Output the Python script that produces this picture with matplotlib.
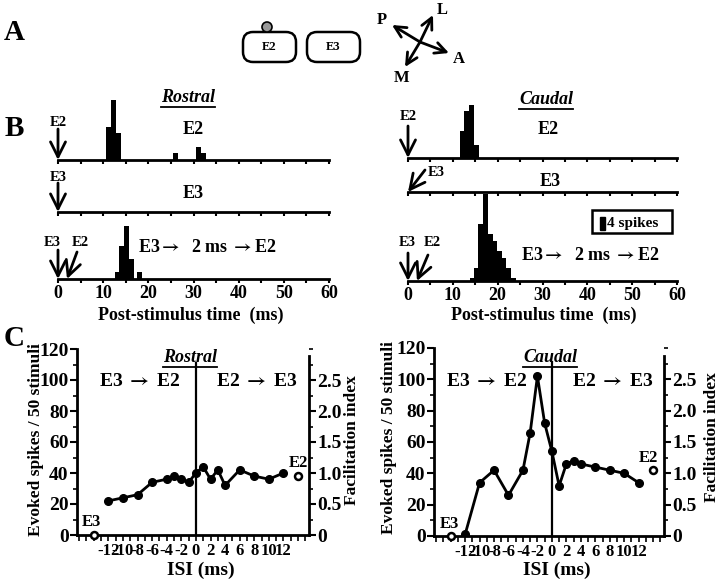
import numpy as np
import matplotlib
matplotlib.use('Agg')
import matplotlib.pyplot as plt
from matplotlib.patches import FancyBboxPatch, Rectangle, Circle
from matplotlib.ticker import MultipleLocator

plt.rcParams['font.family'] = ['Liberation Serif', 'DejaVu Serif']
plt.rcParams['font.weight'] = 'bold'
plt.rcParams['mathtext.fontset'] = 'stix'
plt.rcParams['axes.unicode_minus'] = False
plt.rcParams['axes.linewidth'] = 1.6

# B: post-stimulus time histograms (bin start in ms, spikes per bin)
ros_e2_t = [10.7, 11.8, 12.9, 25.4, 30.5, 31.6]
ros_e2_n = [10, 18, 8, 2, 4, 2]
ros_e3_t = []
ros_e3_n = []
ros_pair_t = [12.6, 13.6, 14.7, 15.8, 17.5]
ros_pair_n = [2, 10, 16, 6, 2]
cau_e2_t = [11.5, 12.6, 13.6, 14.7]
cau_e2_n = [8, 14, 16, 4]
cau_e3_t = []
cau_e3_n = []
cau_pair_t = [13.8, 14.7, 15.7, 16.7, 17.8, 18.8, 19.8, 20.9, 21.9, 23.0]
cau_pair_n = [1, 4, 17, 26, 14, 12, 9, 7, 4, 1]
scale_spikes = 4

# C: evoked spikes vs inter-stimulus interval
isi = [-12, -10, -8, -6, -4, -3, -2, -1, 0, 1, 2, 3, 4, 6, 8, 10, 12]
ros_spikes = [22, 24, 26, 34, 36, 38, 36, 34, 40, 44, 36, 42, 32, 42, 38, 36, 40]
cau_spikes = [1, 34, 42, 26, 42, 66, 102, 72, 54, 32, 46, 48, 46, 44, 42, 40, 34]
alone_isi = [-14, 14]          # single-electrode controls
alone_lab = ['E3', 'E2']
ros_alone = [0, 38]
cau_alone = [0, 42]
fi_per_spike = 1 / 40.         # facilitation index scale
fi_ticks = [0, 0.5, 1.0, 1.5, 2.0, 2.5]
fi_labels = ['0', '0.5', '1.0', '1.5', '2.0', '2.5']

ARR = r'$\rightarrow$'

W, H = 720, 580
fig = plt.figure(figsize=(W / 100, H / 100), dpi=100)


def px_axes(l, t, r, b):
    return fig.add_axes([l / W, 1 - b / H, (r - l) / W, (b - t) / H])


# overlay in pixel coords for labels and the diagram
ov = px_axes(0, 0, W, H)
ov.set_xlim(0, W)
ov.set_ylim(H, 0)
ov.axis('off')

PX_SPIKE = 3.33


def psth(l, r, base, top, t, n, w, labels=False):
    ax = px_axes(l, top, r, base)
    ax.bar(t, n, width=w, align='edge', color='k', linewidth=0)
    ax.set_xlim(0, 60)
    ax.set_ylim(0, (base - top) / PX_SPIKE)
    for s in ['left', 'right', 'top']:
        ax.spines[s].set_visible(False)
    ax.spines['bottom'].set_linewidth(2)
    ax.set_yticks([])
    ax.xaxis.set_major_locator(MultipleLocator(10))
    ax.xaxis.set_minor_locator(MultipleLocator(5))
    ax.tick_params(axis='x', which='both', direction='out', length=3, width=1.5,
                   labelsize=13, pad=1, labelbottom=labels)
    ax.patch.set_visible(False)
    return ax


def stim(ax, t, tail, name, lab):
    ax.annotate('', xy=(t, 0), xytext=tail, textcoords='offset pixels',
                arrowprops=dict(arrowstyle='->,head_length=0.9,head_width=0.45',
                                lw=2, color='k', shrinkA=0, shrinkB=0,
                                mutation_scale=12),
                annotation_clip=False)
    ax.annotate(name, xy=(t, 0), xytext=lab, textcoords='offset pixels',
                ha='center', va='center', fontsize=10.5, annotation_clip=False)


# ---- B, rostral
a1 = psth(58, 329, 160, 95, ros_e2_t, ros_e2_n, 1.1)
stim(a1, 0, (0, 31), 'E2', (0, 38))
a2 = psth(58, 329, 212, 170, ros_e3_t, ros_e3_n, 1.1)
stim(a2, 0, (0, 29), 'E3', (0, 35))
a3 = psth(58, 329, 279, 222, ros_pair_t, ros_pair_n, 1.1, labels=True)
stim(a3, 0, (0, 29), 'E3', (-6, 37))
stim(a3, 2, (10, 27), 'E2', (13, 37))

# ---- B, caudal
b1 = psth(408, 677, 158, 100, cau_e2_t, cau_e2_n, 1.07)
stim(b1, 0, (0, 32), 'E2', (0, 41))
b2 = psth(408, 677, 192, 165, cau_e3_t, cau_e3_n, 1.07)
stim(b2, 0, (17, 22), 'E3', (28, 19))
b3 = psth(408, 677, 281, 194, cau_pair_t, cau_pair_n, 1.07, labels=True)
stim(b3, 0, (0, 28), 'E3', (-1, 38))
stim(b3, 2, (11, 26), 'E2', (15, 38))

# 4-spike scale bar
b3.add_patch(Rectangle((41.1, 14.4), 17.8, 6.9, fill=False, lw=1.8, clip_on=False))
b3.add_patch(Rectangle((42.9, 15.3), 1.1, scale_spikes, color='k', clip_on=False))
b3.text(44.3, 17.4, '%d spikes' % scale_spikes, fontsize=11, va='center')

pair_txt = 'E3' + ARR + '  2 ms ' + ARR + 'E2'
for x, y, s in [(193, 130, 'E2'), (193, 193, 'E3'), (207, 248, pair_txt),
                (548, 130, 'E2'), (550, 182, 'E3'), (590, 255, pair_txt)]:
    ov.text(x, y, s, fontsize=13, ha='center', va='center')

ov.text(191, 315, 'Post-stimulus time  (ms)', fontsize=13, ha='center', va='center')
ov.text(544, 315, 'Post-stimulus time  (ms)', fontsize=13, ha='center', va='center')


# ---- C
def isi_panel(l, r, t, b, spikes, alone, offs):
    ax = px_axes(l, t, r, b)
    ax.patch.set_visible(False)
    ax.plot(isi, spikes, color='k', lw=2, marker='o', ms=5.5, zorder=3)
    for x, y, lab, off in zip(alone_isi, alone, alone_lab, offs):
        ax.plot(x, y, 'o', ms=5, mfc='white', mec='k', mew=1.8, clip_on=False, zorder=4)
        ax.annotate(lab, (x, y), xytext=off, textcoords='offset pixels',
                    ha='center', va='center', fontsize=12)
    ax.axvline(0, ymax=0.925, color='k', lw=1.6)
    ax.set_xlim(-16.3, 15.5)
    ax.set_ylim(0, 120)
    ax.spines['top'].set_visible(False)
    ax.spines['right'].set_visible(False)
    ax.spines['left'].set_linewidth(2)
    ax.spines['bottom'].set_linewidth(2)
    ax.set_yticks(range(0, 121, 20))
    ax.yaxis.set_minor_locator(MultipleLocator(10))
    ax.set_xticks(range(-12, 13, 2))
    ax.set_xticks(range(-16, 16), minor=True)
    ax.tick_params(axis='y', which='major', length=5, width=1.5, labelsize=14, pad=1)
    ax.tick_params(axis='y', which='minor', length=3, width=1.2)
    ax.tick_params(axis='x', which='both', length=4, width=1.2, labelsize=12, pad=2)

    ax2 = ax.twinx()
    ax2.set_ylim(0, 120 * fi_per_spike)
    ax2.spines['top'].set_visible(False)
    ax2.spines['left'].set_visible(False)
    ax2.spines['bottom'].set_visible(False)
    ax2.spines['right'].set_linewidth(2)
    ax2.spines['right'].set_bounds(0, 2.88)
    ax2.set_yticks(fi_ticks)
    ax2.set_yticklabels(fi_labels)
    ax2.yaxis.set_minor_locator(MultipleLocator(0.25))
    ax2.tick_params(axis='y', which='major', length=5, width=1.5, labelsize=14, pad=1)
    ax2.tick_params(axis='y', which='minor', length=3, width=1.2)
    return ax


isi_panel(77, 309, 349, 535, ros_spikes, ros_alone, [(-2, 13), (0, 13)])
isi_panel(434, 664, 348, 536, cau_spikes, cau_alone, [(-1, 12), (-5, 12)])

for x in (140, 487):
    ov.text(x, 382, 'E3 ' + ARR + ' E2', fontsize=14, ha='center', va='center')
for x in (257, 613):
    ov.text(x, 382, 'E2 ' + ARR + ' E3', fontsize=14, ha='center', va='center')
for x, y in ((36, 440), (389, 438)):
    ov.text(x, y, 'Evoked spikes / 50 stimuli', fontsize=12.5, rotation=90,
            ha='center', va='center')
for x, y in ((352, 440), (712, 437)):
    ov.text(x, y, 'Facilitation index', fontsize=12.5, rotation=90,
            ha='center', va='center')
ov.text(201, 570, 'ISI (ms)', fontsize=14, ha='center', va='center')
ov.text(557, 570, 'ISI (ms)', fontsize=14, ha='center', va='center')

# underlined italic titles
titles = [(188, 97, 'Rostral'), (546, 99, 'Caudal'), (190, 357, 'Rostral'), (550, 357, 'Caudal')]
tt = [ov.text(x, y, s, fontsize=13, style='italic', ha='center', va='center') for x, y, s in titles]
fig.canvas.draw()
for t in tt:
    bb = t.get_window_extent()
    y = H - bb.y0 + 1
    ov.plot([bb.x0, bb.x1], [y, y], color='k', lw=1.3)

# panel letters
for x, y, s in [(14, 33, 'A'), (14, 128, 'B'), (14, 339, 'C')]:
    ov.text(x, y, s, fontsize=21, ha='center', va='center')

# ---- A: electrode diagram and orientation
for x0, lab in [(243, 'E2'), (307, 'E3')]:
    ov.add_patch(FancyBboxPatch((x0, 32), 53, 30, boxstyle='round,pad=0,rounding_size=10',
                                fc='white', ec='k', lw=1.8))
    ov.text(x0 + 26.5, 47, lab, fontsize=9, ha='center', va='center')
ov.add_patch(Circle((267, 27), 5, fc='0.6', ec='k', lw=1.2, zorder=3))

cx, cy = 420, 42
for (tx, ty), (lx, ly), s in [((392, 25), (382, 20), 'P'), ((449, 53), (459, 59), 'A'),
                              ((433, 15), (442, 10), 'L'), ((405, 67), (402, 78), 'M')]:
    ov.annotate('', xy=(tx, ty), xytext=(cx, cy),
                arrowprops=dict(arrowstyle='->,head_length=0.8,head_width=0.4',
                                lw=2, color='k', shrinkA=0, shrinkB=0, mutation_scale=10))
    ov.text(lx, ly, s, fontsize=12, ha='center', va='center')

fig.savefig('out.png', dpi=100)
